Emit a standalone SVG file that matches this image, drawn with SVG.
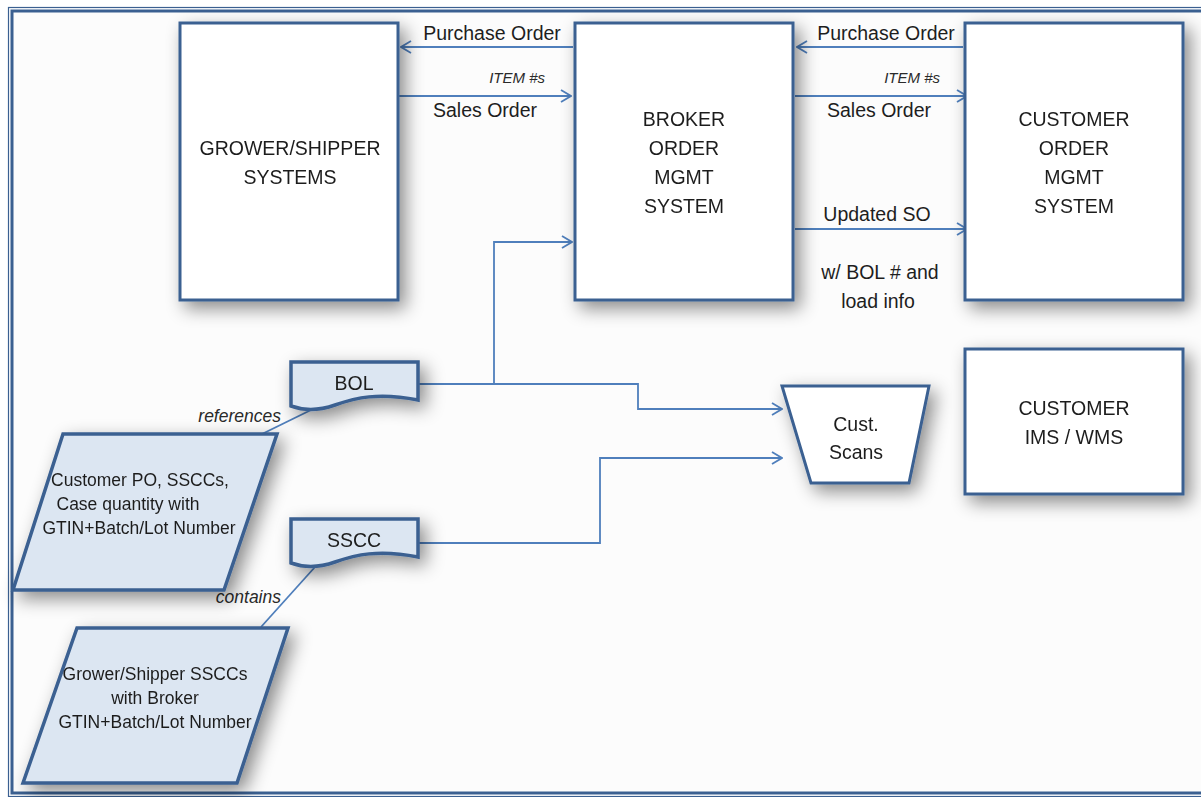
<svg xmlns="http://www.w3.org/2000/svg" width="1201" height="797" viewBox="0 0 1201 797">
<style>
.box{fill:#fff;stroke:#3b6091;stroke-width:3}
.doc{fill:#dce6f2;stroke:#3b6091;stroke-width:3.5}
.t{font-family:"Liberation Sans",Arial,sans-serif;font-size:19.5px;fill:#1e1e1e;text-anchor:middle}
.s{font-family:"Liberation Sans",Arial,sans-serif;font-size:17.5px;fill:#1e1e1e;text-anchor:middle}
.i{font-family:"Liberation Sans",Arial,sans-serif;font-style:italic;fill:#2a2a2a}
.c{fill:none;stroke:#4f7fbc;stroke-width:1.8}
.a{fill:none;stroke:#4f7fbc;stroke-width:1.8;marker-end:url(#arr)}
</style>
<defs>
<marker id="arr" viewBox="0 0 12 14" refX="11" refY="7" markerWidth="12" markerHeight="14" markerUnits="userSpaceOnUse" orient="auto">
<path d="M1,1 L11,7 L1,13" fill="none" stroke="#4f7fbc" stroke-width="1.8"/>
</marker>
<filter id="sh" x="-40%" y="-60%" width="190%" height="240%">
<feDropShadow dx="6" dy="7" stdDeviation="9" flood-color="#000" flood-opacity="0.45"/>
</filter>
</defs>
<rect x="0" y="0" width="1201" height="797" fill="#fff"/>
<rect x="8.5" y="7.5" width="1200" height="789" fill="none" stroke="#3b6091" stroke-width="1.2"/>
<rect x="12" y="11" width="1200" height="782" fill="#fcfcfc" stroke="#3b6091" stroke-width="3"/>

<g id="connectors">
<line class="a" x1="573" y1="47" x2="401" y2="47"/>
<line class="a" x1="399" y1="96" x2="571" y2="96"/>
<line class="a" x1="963" y1="47" x2="797" y2="47"/>
<line class="a" x1="795" y1="96" x2="967" y2="96"/>
<line class="a" x1="795" y1="229" x2="967" y2="229"/>
<polyline class="a" points="418,384 494,384 494,242 572,242"/>
<polyline class="a" points="494,384 638,384 638,409 782,409"/>
<polyline class="a" points="418,543 600,543 600,458 782,458"/>
<line class="c" x1="313" y1="409" x2="262" y2="434"/>
<line class="c" x1="315" y1="567" x2="261" y2="627"/>
<text class="t" x="492" y="40">Purchase Order</text>
<text class="i" x="545" y="83" font-size="15" text-anchor="end">ITEM #s</text>
<text class="t" x="485" y="117">Sales Order</text>
<text class="t" x="886" y="40">Purchase Order</text>
<text class="i" x="940" y="83" font-size="15" text-anchor="end">ITEM #s</text>
<text class="t" x="879" y="117">Sales Order</text>
<text class="t" x="877" y="221">Updated SO</text>
<text class="t" x="880" y="279">w/ BOL # and</text>
<text class="t" x="878" y="308">load info</text>
<text class="i" x="281" y="422" font-size="17.5" text-anchor="end">references</text>
<text class="i" x="281" y="603" font-size="17.5" text-anchor="end">contains</text>
</g>

<g id="grower" filter="url(#sh)">
<rect class="box" x="180" y="23" width="218" height="277"/>
<text class="t" x="290" y="155">GROWER/SHIPPER</text>
<text class="t" x="290" y="184">SYSTEMS</text>
</g>
<g id="broker" filter="url(#sh)">
<rect class="box" x="575" y="23" width="218" height="277"/>
<text class="t" x="684" y="126">BROKER</text>
<text class="t" x="684" y="155">ORDER</text>
<text class="t" x="684" y="184">MGMT</text>
<text class="t" x="684" y="213">SYSTEM</text>
</g>
<g id="customer-oms" filter="url(#sh)">
<rect class="box" x="965" y="23" width="218" height="277"/>
<text class="t" x="1074" y="126">CUSTOMER</text>
<text class="t" x="1074" y="155">ORDER</text>
<text class="t" x="1074" y="184">MGMT</text>
<text class="t" x="1074" y="213">SYSTEM</text>
</g>
<g id="customer-ims" filter="url(#sh)">
<rect class="box" x="965" y="349" width="218" height="145"/>
<text class="t" x="1074" y="415">CUSTOMER</text>
<text class="t" x="1074" y="444">IMS / WMS</text>
</g>
<g id="cust-scans" filter="url(#sh)">
<polygon class="box" points="782,386 929,386 909,483 811,483"/>
<text class="t" x="856" y="431">Cust.</text>
<text class="t" x="856" y="459">Scans</text>
</g>
<g id="bol" filter="url(#sh)">
<path class="doc" d="M291,362 H418 V400 C378,392 355,398 335,405 C318,411 302,410 291,406 Z"/>
<text class="t" x="354" y="390">BOL</text>
</g>
<g id="sscc" filter="url(#sh)">
<path class="doc" d="M291,519 H418 V557 C378,549 355,555 335,562 C318,568 302,567 291,563 Z"/>
<text class="t" x="354" y="547">SSCC</text>
</g>
<g id="bol-data" filter="url(#sh)">
<polygon class="doc" points="63,434 277,434 224,590 13,590"/>
<text class="s" x="140" y="486">Customer PO, SSCCs,</text>
<text class="s" x="128" y="510">Case quantity with</text>
<text class="s" x="139" y="534">GTIN+Batch/Lot Number</text>
</g>
<g id="sscc-data" filter="url(#sh)">
<polygon class="doc" points="77,628 288,628 237,783 23,783"/>
<text class="s" x="155" y="680">Grower/Shipper SSCCs</text>
<text class="s" x="155" y="704">with Broker</text>
<text class="s" x="155" y="728">GTIN+Batch/Lot Number</text>
</g>
</svg>
